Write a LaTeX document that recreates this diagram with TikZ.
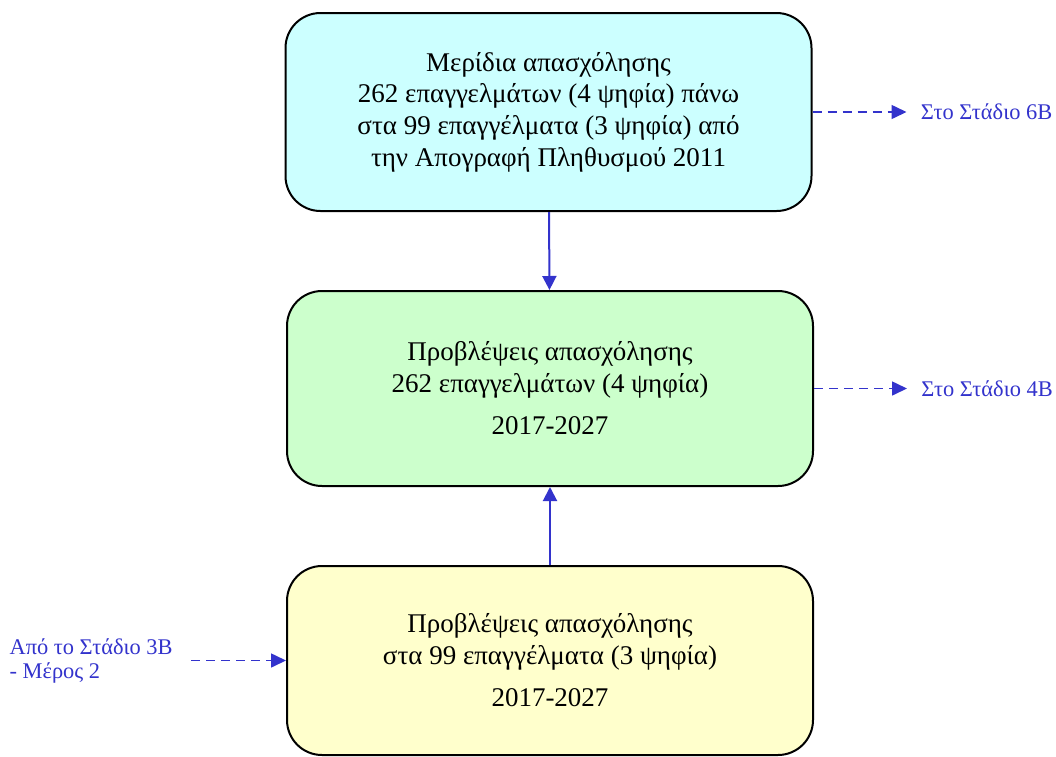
\documentclass[tikz,border=0pt]{standalone}
\usepackage{fontspec}
\setmainfont{Liberation Serif}
\usepackage{xcolor}
\usetikzlibrary{positioning,arrows.meta}

\definecolor{boxcyan}{RGB}{204,255,255}
\definecolor{boxgreen}{RGB}{204,255,204}
\definecolor{boxyellow}{RGB}{255,255,204}
\definecolor{linkblue}{RGB}{51,51,204}

\begin{document}
\begin{tikzpicture}[
  x=0.5pt, y=-0.5pt,
  node distance=39pt,
  stage/.style={draw, line width=1pt, rounded corners=17.5pt, minimum width=263pt, align=center, font=\fontsize{13.5}{15.8}\selectfont},
  note/.style={text=linkblue, align=left, font=\fontsize{11.2}{12}\selectfont},
  flow/.style={-{Triangle[length=7pt,width=7pt]}, line width=1pt, linkblue},
  link/.style={-{Triangle[length=7.5pt,width=7pt]}, line width=0.8pt, dash pattern=on 4.5pt off 3pt, linkblue}
]
\useasboundingbox (0,0) rectangle (1056,756);
\node[stage, fill=boxcyan, minimum height=99pt] (shares) at (548.5,112) {Μερίδια απασχόλησης\\262 επαγγελμάτων (4 ψηφία) πάνω\\στα 99 επαγγέλματα (3 ψηφία) από\\την Απογραφή Πληθυσμού 2011};
\node[stage, fill=boxgreen, minimum height=97.5pt, below=of shares, xshift=0.75pt] (fc4) {Προβλέψεις απασχόλησης\\262 επαγγελμάτων (4 ψηφία)\\[5.5pt]2017-2027};
\node[stage, fill=boxyellow, minimum height=94.5pt, below=of fc4] (fc3) {Προβλέψεις απασχόλησης\\στα 99 επαγγέλματα (3 ψηφία)\\[5.5pt]2017-2027};
\node[note, anchor=west, inner xsep=7pt] (to6b) at ([xshift=47pt]shares.east) {Στο Στάδιο 6Β};
\node[note, anchor=west, inner xsep=7pt] (to4b) at ([xshift=46.5pt]fc4.east) {Στο Στάδιο 4Β};
\node[note, anchor=east, inner xsep=9pt] (from3b) at ([xshift=-47.5pt]fc3.west) {Από το Στάδιο 3Β\\- Μέρος 2};

\draw[flow] (shares) -- (fc4);
\draw[flow] (fc3) -- (fc4);
\draw[link] (shares.east) -- (to6b.west);
\draw[link] (fc4.east) -- (to4b.west);
\draw[link] (from3b.east) -- (fc3.west);
\end{tikzpicture}
\end{document}
